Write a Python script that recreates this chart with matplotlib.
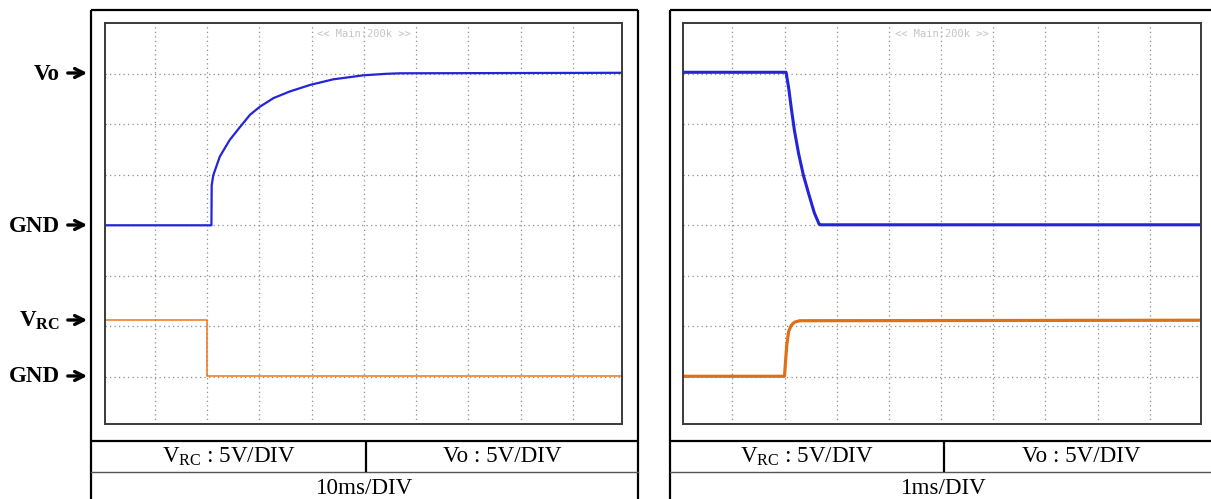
import matplotlib
matplotlib.use("Agg")
import matplotlib.pyplot as plt

# scope traces, in screen divisions (x: 0..10 time div, y: 0..8 volt div)
left_vo_t = [0, 2.08, 2.085, 2.115, 2.24, 2.43, 2.63, 2.82, 3.01, 3.27, 3.58, 3.97, 4.41, 4.99, 5.43, 5.69, 10]
left_vo_v = [4.0, 4.0, 4.79, 4.99, 5.36, 5.69, 5.95, 6.19, 6.35, 6.52, 6.65, 6.78, 6.89, 6.97, 7.0, 7.01, 7.02]
left_vrc_t = [0, 2.0, 2.0, 10]
left_vrc_v = [2.12, 2.12, 1.01, 1.01]

right_vo_t = [0, 2.03, 2.08, 2.13, 2.19, 2.27, 2.36, 2.47, 2.57, 2.66, 2.68, 10]
right_vo_v = [7.03, 7.03, 6.72, 6.32, 5.88, 5.42, 5.0, 4.6, 4.25, 4.03, 4.01, 4.01]
right_vrc_t = [0, 2.0, 2.02, 2.045, 2.08, 2.13, 2.19, 2.29, 10]
right_vrc_v = [1.01, 1.01, 1.31, 1.64, 1.90, 2.02, 2.08, 2.11, 2.12]

side_labels = ["Vo", "GND", r"V$_{\mathbf{RC}}$", "GND"]
side_label_y = [73, 225, 320, 376]
volt_row = [r"V$_{\mathrm{RC}}$ : 5V/DIV", "Vo : 5V/DIV"]
time_labels = ["10ms/DIV", "1ms/DIV"]
scope_banner = "<< Main:200k >>"

W, H = 1211, 499
plt.rcParams["mathtext.fontset"] = "custom"
plt.rcParams["mathtext.rm"] = "Liberation Serif"
plt.rcParams["mathtext.bf"] = "Liberation Serif:bold"
plt.rcParams["mathtext.it"] = "Liberation Serif:italic"

fig = plt.figure(figsize=(W / 100, H / 100), dpi=100)
bg = fig.add_axes([0, 0, 1, 1])
bg.set_xlim(0, W); bg.set_ylim(H, 0); bg.axis("off")

BLUE = "#2424d8"
ORANGE = "#e8781e"
FS = 16.6


def scope_axes(x0, x1, y0, y1, xlim):
    ax = fig.add_axes([x0 / W, 1 - y1 / H, (x1 - x0) / W, (y1 - y0) / H])
    ax.set_xlim(xlim); ax.set_ylim(0.065, 8.0)
    ax.set_xticks(range(1, 10)); ax.set_yticks(range(1, 8))
    ax.tick_params(length=0, labelbottom=False, labelleft=False)
    ax.grid(True, color="#8c8c8c", linestyle=(0, (1, 2.6)), lw=0.9)
    for s in ax.spines.values():
        s.set_color("#3a3a3a"); s.set_linewidth(1.4)
    ax.text(0.5, 0.985, scope_banner, transform=ax.transAxes, ha="center", va="top",
            family="DejaVu Sans Mono", fontsize=7.5, color="#c4c4c4")
    return ax


def frame(xl, xr, xdiv):
    k = dict(color="black", lw=1.6, solid_capstyle="butt")
    bg.plot([xl, xl], [10, H + 5], **k)
    bg.plot([xl, xr], [10, 10], **k)
    bg.plot([xr, xr], [10, H + 5], **k)
    bg.plot([xl, xr], [441, 441], **k)
    bg.plot([xl, xr], [472, 472], color="#555555", lw=1.0)
    bg.plot([xdiv, xdiv], [441, 472], **k)


def cell(x, y, s):
    bg.text(x, y, s, ha="center", va="center", family="Liberation Serif", fontsize=FS)


# left panel
frame(91, 638, 366)
axl = scope_axes(105, 622.3, 23.3, 424, (0.043, 9.944))
axl.plot(left_vrc_t, left_vrc_v, color=ORANGE, lw=1.1)
axl.plot(left_vo_t, left_vo_v, color=BLUE, lw=1.6)
cell(229, 457, volt_row[0])
cell(502, 457, volt_row[1])
cell(365, 489, time_labels[0])

# right panel (frame runs off the right edge)
frame(670, 1218, 944)
axr = scope_axes(683.3, 1201, 23.3, 424, (0.061, 9.98))
axr.plot(right_vrc_t, right_vrc_v, color="#e07014", lw=2.3)
axr.plot(right_vo_t, right_vo_v, color=BLUE, lw=2.2)
cell(807, 457, volt_row[0])
cell(1081, 457, volt_row[1])
cell(944, 489, time_labels[1])

# level markers
for lab, y in zip(side_labels, side_label_y):
    bg.text(60, y + 1, lab, ha="right", va="center", family="Liberation Serif",
            fontweight="bold", fontsize=FS)
    bg.annotate("", xy=(90, y), xytext=(65, y),
                arrowprops=dict(arrowstyle="->", lw=2.4, color="black", mutation_scale=16))

fig.savefig("out.png", dpi=100)
